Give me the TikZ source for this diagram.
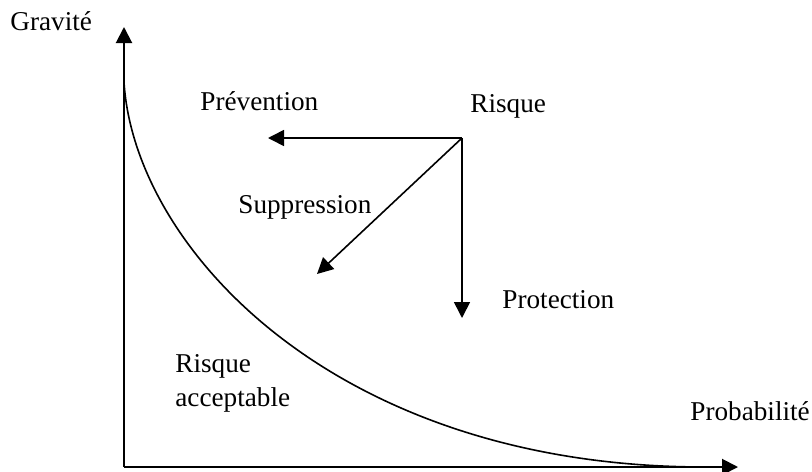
\documentclass[tikz,border=0pt]{standalone}
\usepackage{fontspec}
\setmainfont{Liberation Serif}
\usetikzlibrary{arrows.meta}
\begin{document}
\begin{tikzpicture}[x=0.5pt,y=-0.5pt,
  lbl/.style={inner sep=0pt,font=\fontsize{13.6}{17}\selectfont},
  arr/.style={line width=0.8pt,-{Triangle[length=8pt,width=8pt]}},
  ax/.style={line width=1pt,-{Triangle[length=8pt,width=8pt]}}]
\useasboundingbox (0,0) rectangle (812,471);
\coordinate (O) at (124,467);
\coordinate (Ytip) at (124,27);
\coordinate (Xtip) at (738,467);
\draw[ax] (O) -- (Ytip);
\draw[ax] (O) -- (Xtip);
\node[lbl,anchor=west] (grav) at (10,21) {Gravité};
\node[lbl,anchor=west] (prob) at (690,411) {Probabilité};
\coordinate (C0) at (124,82);
\coordinate (C3) at (705,467);
\draw[line width=0.8pt] (C0) .. controls (134,247) and (334,467) .. (C3);
\coordinate (R) at (462,138);
\coordinate (Pv) at (268,138);
\coordinate (Pt) at (462,318);
\coordinate (Sp) at (317,274);
\draw[arr] (R) -- (Pv);
\draw[arr] (R) -- (Pt);
\draw[arr] (R) -- (Sp);
\node[lbl,anchor=west] (risque) at (470,106) {Risque};
\node[lbl,anchor=west] (prev) at (200,101) {Prévention};
\node[lbl,anchor=west] (supp) at (238,207) {Suppression};
\node[lbl,anchor=west] (prot) at (502,300) {Protection};
\node[lbl,anchor=north west,align=left] (acc) at (175,354) {Risque\\acceptable};
\end{tikzpicture}
\end{document}
